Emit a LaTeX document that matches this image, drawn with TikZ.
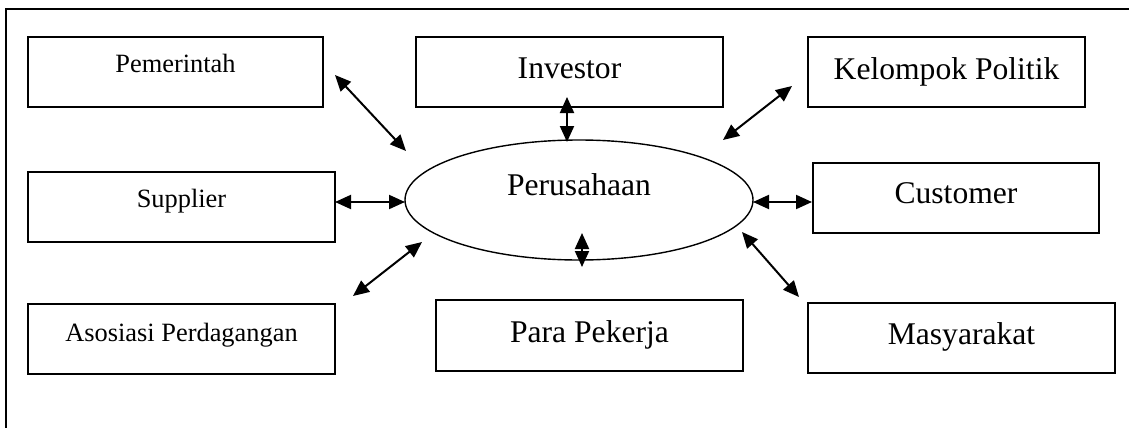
\documentclass[tikz,border=0pt]{standalone}
\usepackage{fontspec}
\setmainfont{Liberation Serif}
\usetikzlibrary{arrows.meta,shapes.geometric}
\newcommand{\smallsz}{\fontsize{26.4}{30}\selectfont}
\newcommand{\bigsz}{\fontsize{31.6}{36}\selectfont}
\tikzset{
  boxnode/.style={draw, line width=1.4pt, inner sep=0pt, outer sep=0pt, rectangle},
  smalltxt/.style={font=\smallsz},
  bigtxt/.style={font=\bigsz},
  link/.style={line width=2pt, {Triangle[length=16pt,width=14pt]}-{Triangle[length=16pt,width=14pt]}},
  frameline/.style={line width=1.4pt}
}
\begin{document}
\begin{tikzpicture}[x=1pt,y=-1pt]
\useasboundingbox (0,0) rectangle (1129,428);
% frame
\coordinate (fa) at (6,428);
\coordinate (fb) at (6,9);
\coordinate (fc) at (1129,9);
\draw[frameline] (fa) -- (fb) -- (fc);

% boxes
\node[boxnode, smalltxt, minimum width=295pt, text height=36pt, text depth=34pt] (pem) at (175.5,72) {Pemerintah};
\node[boxnode, smalltxt, minimum width=307pt, text height=35pt, text depth=35pt] (sup) at (181.5,207) {Supplier};
\node[boxnode, smalltxt, minimum width=307pt, text height=37pt, text depth=33pt] (aso) at (181.5,339) {Asosiasi Perdagangan};
\node[boxnode, bigtxt, minimum width=307pt, text height=41pt, text depth=29pt] (inv) at (569.5,72) {Investor};
\node[boxnode, bigtxt, minimum width=277pt, text height=42pt, text depth=28pt] (kel) at (946.5,72) {Kelompok Politik};
\node[boxnode, bigtxt, minimum width=286pt, text height=40pt, text depth=30pt] (cus) at (956,198) {Customer};
\node[boxnode, bigtxt, minimum width=307pt, text height=42pt, text depth=29pt] (par) at (589.5,335.5) {Para Pekerja};
\node[boxnode, bigtxt, minimum width=307pt, text height=41pt, text depth=29pt] (mas) at (961.5,338) {Masyarakat};

% center ellipse
\node[draw, ellipse, line width=1.4pt, inner sep=0pt, minimum width=348pt, minimum height=120pt, bigtxt, text height=20pt, text depth=30pt] (per) at (579,200) {Perusahaan};

% arrow end points
\coordinate (pemA) at (335,75);   \coordinate (pemB) at (406,151);
\coordinate (invA) at (567,97);   \coordinate (invB) at (567,142);
\coordinate (kelA) at (723,140);  \coordinate (kelB) at (792,86);
\coordinate (asoA) at (353,296);  \coordinate (asoB) at (422,242);
\coordinate (parA) at (582,233);  \coordinate (parB) at (582,267);
\coordinate (masA) at (742,232);  \coordinate (masB) at (799,297);
\coordinate (supA) at (335,202);  \coordinate (supB) at (405,202);
\coordinate (cusA) at (753,202);  \coordinate (cusB) at (812,202);

\draw[link] (pemA) -- (pemB);
\draw[link] (invA) -- (invB);
\draw[link] (kelA) -- (kelB);
\draw[link] (asoA) -- (asoB);
\draw[link] (parA) -- (parB);
\draw[link] (masA) -- (masB);
\draw[link] (supA) -- (supB);
\draw[link] (cusA) -- (cusB);
\end{tikzpicture}
\end{document}
